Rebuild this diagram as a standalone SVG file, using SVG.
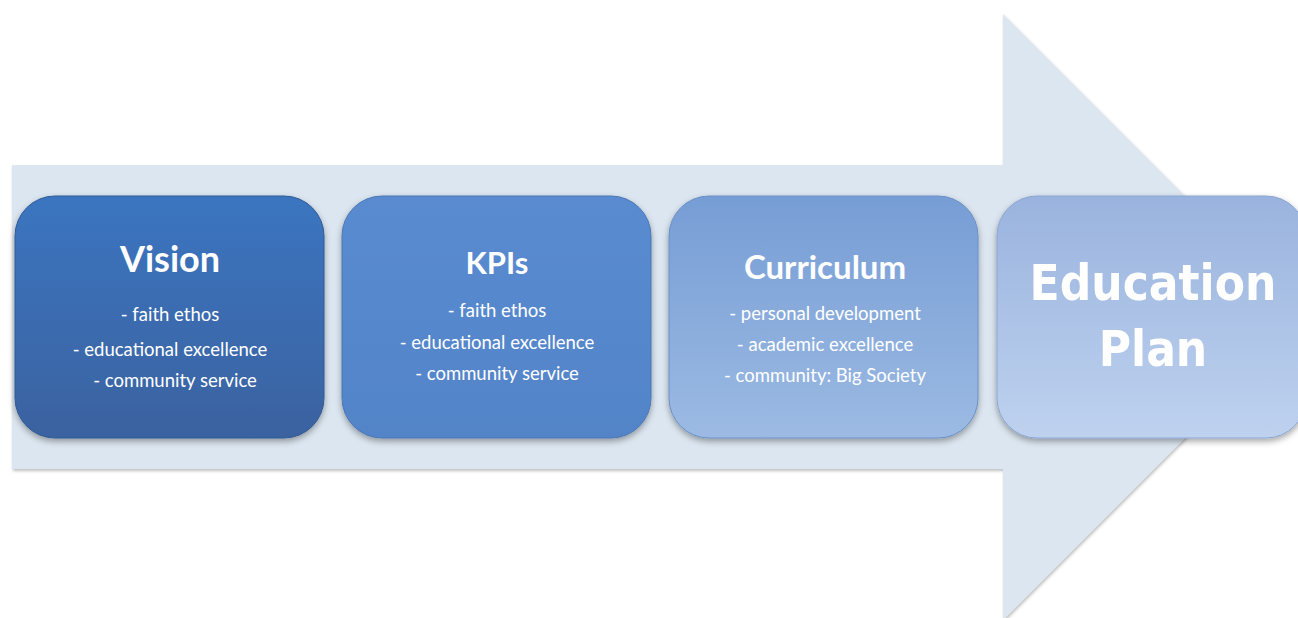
<svg xmlns="http://www.w3.org/2000/svg" width="1298" height="618" viewBox="0 0 1298 618">
<defs>
<style>
.t{font-family:Lato,"Open Sans","Liberation Sans",sans-serif;fill:#fff;text-anchor:middle}
.h{font-weight:bold}
.b{font-size:18.5px}
.ep{font-family:"DejaVu Sans Condensed","DejaVu Sans",Verdana,sans-serif;font-stretch:condensed;font-weight:bold;font-size:49px;fill:#fff;text-anchor:middle}
</style>
<linearGradient id="g1" x1="0" y1="0" x2="0" y2="1"><stop offset="0" stop-color="#3a75c0"/><stop offset="1" stop-color="#3b62a0"/></linearGradient>
<linearGradient id="g2" x1="0" y1="0" x2="0" y2="1"><stop offset="0" stop-color="#5a8bd1"/><stop offset="1" stop-color="#5284c8"/></linearGradient>
<linearGradient id="g3" x1="0" y1="0" x2="0" y2="1"><stop offset="0" stop-color="#769dd5"/><stop offset="1" stop-color="#9cbae3"/></linearGradient>
<linearGradient id="g4" x1="0" y1="0" x2="0" y2="1"><stop offset="0" stop-color="#9ab3de"/><stop offset="1" stop-color="#bed2ef"/></linearGradient>
<filter id="sh" x="-10%" y="-10%" width="120%" height="130%"><feDropShadow dx="0" dy="3" stdDeviation="3" flood-color="#000" flood-opacity="0.35"/></filter>
<filter id="ash" x="-5%" y="-5%" width="110%" height="115%"><feDropShadow dx="1" dy="2" stdDeviation="1.5" flood-color="#000" flood-opacity="0.25"/></filter>
</defs>
<rect width="1298" height="618" fill="#fff"/>
<g id="arrow">
<polygon points="12,165 1003,165 1003,14 1306,317 1003,620 1003,469 12,469" fill="#dce6f0" filter="url(#ash)"/>
</g>
<g id="vision">
<rect x="15" y="196" width="309" height="242" rx="40" fill="url(#g1)" stroke="#2f5a94" stroke-width="1" filter="url(#sh)"/>
<text class="t h" x="170" y="272" font-size="36">Vision</text>
<text class="t b" x="170" y="321">- faith ethos</text>
<text class="t b" x="170" y="356">- educational excellence</text>
<text class="t b" x="175" y="387">- community service</text>
</g>
<g id="kpis">
<rect x="342" y="196" width="309" height="242" rx="40" fill="url(#g2)" stroke="#4a76b5" stroke-width="1" filter="url(#sh)"/>
<text class="t h" x="497" y="274" font-size="31">KPIs</text>
<text class="t b" x="497" y="317">- faith ethos</text>
<text class="t b" x="497" y="349">- educational excellence</text>
<text class="t b" x="497" y="380">- community service</text>
</g>
<g id="curriculum">
<rect x="669" y="196" width="309" height="242" rx="40" fill="url(#g3)" stroke="#6a90c6" stroke-width="1" filter="url(#sh)"/>
<text class="t h" x="825" y="279" font-size="33">Curriculum</text>
<text class="t b" x="825" y="320">- personal development</text>
<text class="t b" x="825" y="351">- academic excellence</text>
<text class="t b" x="825" y="382">- community: Big Society</text>
</g>
<g id="plan">
<rect x="997" y="196" width="309" height="242" rx="40" fill="url(#g4)" stroke="#8aa6d2" stroke-width="1" filter="url(#sh)"/>
<text class="ep" x="1153" y="300">Education</text>
<text class="ep" x="1153" y="366">Plan</text>
</g>
<g id="connectors"/>
</svg>
